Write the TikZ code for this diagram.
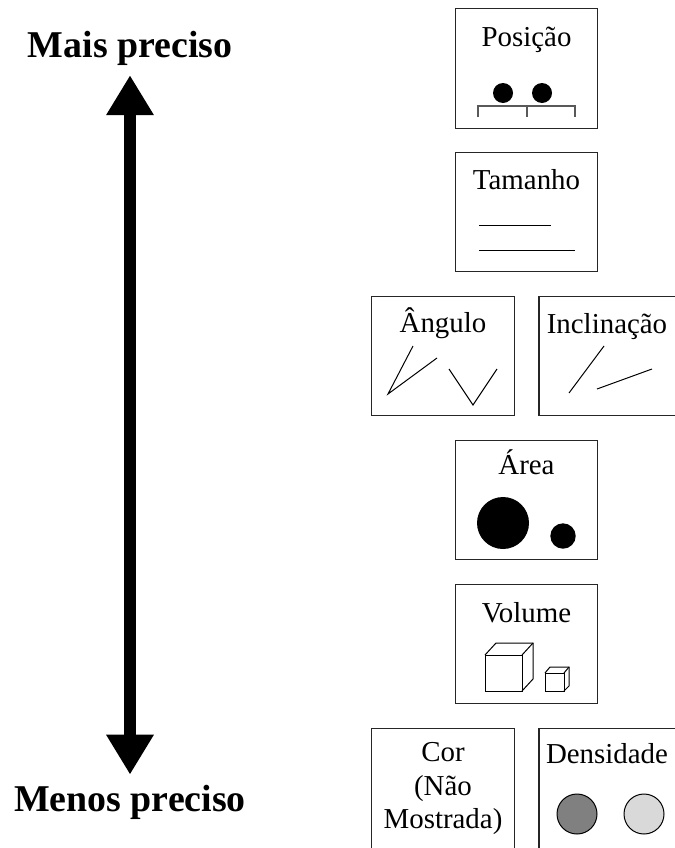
\documentclass[tikz,border=0pt]{standalone}
\usepackage{fontspec}
\setmainfont{Liberation Serif}
\usetikzlibrary{arrows.meta, positioning, calc}
\tikzset{
  panel/.style={rectangle,draw=black!85,line width=1.3pt,
    minimum width=143pt,minimum height=120pt,inner sep=0pt},
  title/.style={anchor=base,inner sep=0pt,align=center,
    font=\fontsize{29}{33.5}\selectfont},
  side/.style={inner sep=0pt,font=\fontsize{38}{44}\selectfont\bfseries},
  glyph/.style={line width=1pt,draw=black},
  tick/.style={line width=1.3pt,draw=black!65},
  bigarrow/.style={{Triangle[width=45pt,length=40pt]}-{Triangle[width=45pt,length=40pt]},
    line width=12pt,shorten <=10pt,shorten >=10pt}
}
\begin{document}
\begin{tikzpicture}[x=1bp,y=-1bp]
  \useasboundingbox (0,0) rectangle (675,848);
  \clip (0,0) rectangle (675,848);

  % precision scale
  \node[side, anchor=base] (mais) at (130,57) {Mais preciso};
  \node[side, anchor=base] (menos) at (130,811) {Menos preciso};
  \draw[bigarrow] (mais.south) -- (menos.north);

  % panels
  \node[panel] (posB) at (526.5,68.5) {};
  \node[panel] (tamB) at (526.5,212) {};
  \node[panel] (angB) at (443,356) {};
  \node[panel, minimum width=200pt] (incB) at (638.5,356) {};
  \node[panel] (areaB) at (526.5,500) {};
  \node[panel] (volB) at (526.5,644) {};
  \node[panel, minimum height=140pt] (corB) at (443,798) {};
  \node[panel, minimum width=200pt, minimum height=140pt] (denB) at (638.5,798) {};

  % titles
  \node[title] (posT) at ([yshift=-39pt]posB.north) {Posição};
  \node[title] (tamT) at ([yshift=-38pt]tamB.north) {Tamanho};
  \node[title] (angT) at ([yshift=-37pt]angB.north) {Ângulo};
  \node[title] (incT) at (607,333) {Inclinação};
  \node[title] (areaT) at ([yshift=-35pt]areaB.north) {Área};
  \node[title] (volT) at ([yshift=-39pt]volB.north) {Volume};
  \node[title, anchor=north] (corT) at ([yshift=-15pt]corB.north) {Cor\\(Não\\Mostrada)};
  \node[title] (denT) at (607,763) {Densidade};

  % position
  \fill (503,93) circle (10bp);
  \fill (542,93) circle (10bp);
  \draw[tick] (478,117) -- (478,106) -- (575,106) -- (575,117);
  \draw[tick] (527,106) -- (527,117);

  % length
  \draw[glyph] (479,225) -- (551,225);
  \draw[glyph] (479,250) -- (575,250);

  % angle
  \draw[glyph] (413,346) -- (388,394) -- (437,358);
  \draw[glyph] (449,369) -- (473,405) -- (497,369);

  % slope
  \draw[glyph] (569,393) -- (604,346);
  \draw[glyph] (597,389) -- (652,369);

  % area
  \fill (503,523) circle (26bp);
  \fill (563,536) circle (12.7bp);

  % volume
  \draw[glyph] (485,655) rectangle (522,691);
  \draw[glyph] (485,655) -- (496,643) -- (533,643) -- (533,679) -- (522,691);
  \draw[glyph] (522,655) -- (533,643);
  \draw[glyph] (545,673) rectangle (564,691);
  \draw[glyph] (545,673) -- (550,667) -- (569,667) -- (569,686) -- (564,691);
  \draw[glyph] (564,673) -- (569,667);

  % density
  \draw[glyph, fill=black!50] (577,814) circle (20bp);
  \draw[glyph, fill=black!15] (644,814) circle (20bp);
\end{tikzpicture}
\end{document}
